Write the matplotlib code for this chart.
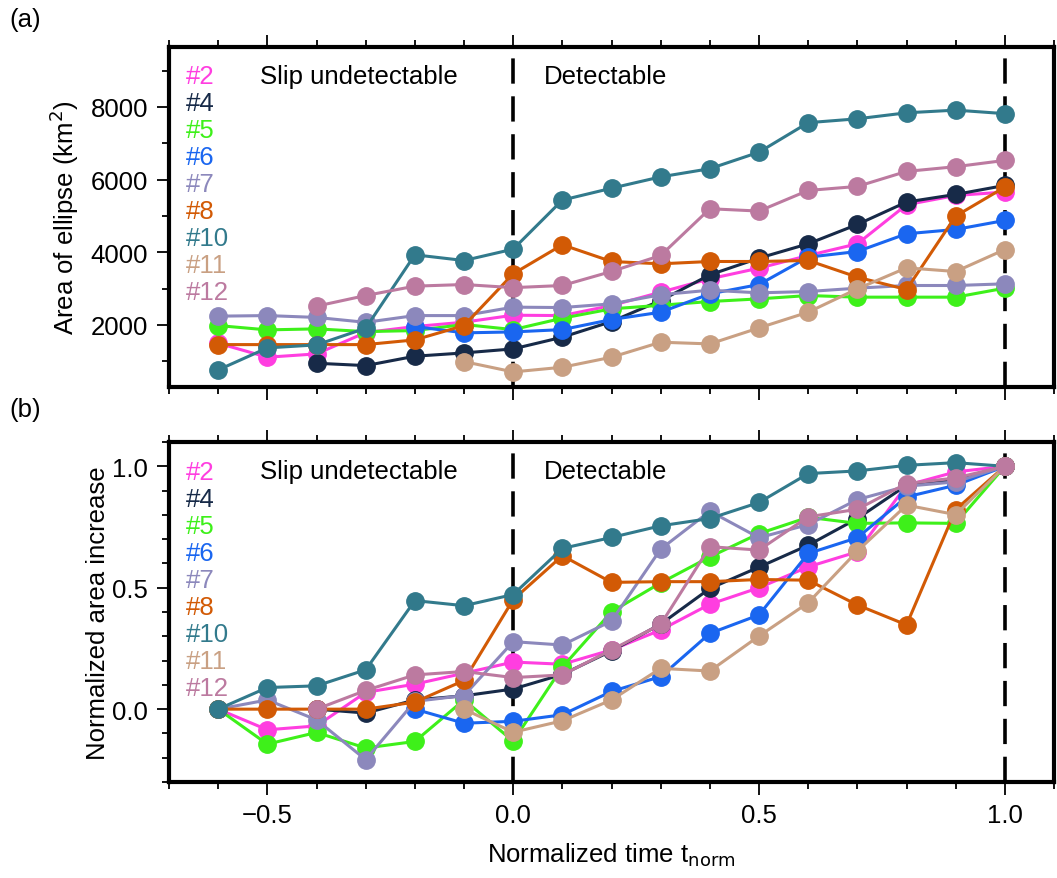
# Aire des ellipses et augmentation normalisée en fonction du temps normalisé.
# Deux panneaux (a) et (b), style GMT : cadre épais, graduations vers l'extérieur.

import numpy as np
import matplotlib.pyplot as plt
from matplotlib.ticker import MultipleLocator

nan = np.nan

t_norm = [-0.6, -0.5, -0.4, -0.3, -0.2, -0.1, 0.0, 0.1, 0.2, 0.3,
          0.4, 0.5, 0.6, 0.7, 0.8, 0.9, 1.0]

events = ["#2", "#4", "#5", "#6", "#7", "#8", "#10", "#11", "#12"]
colors = ["#ff3ee0", "#172a48", "#3ef01a", "#1a66f0", "#8c88bc",
          "#d25a05", "#327a8c", "#c9a083", "#bc7aa0"]

# --- (a) aire de l'ellipse (km^2) ---
area_2 = [1495, 1110, 1201, 1790, 1954, 2074, 2266, 2256, 2533, 2900,
          3268, 3562, 3910, 4232, 5307, 5563, 5657]
area_4 = [nan, nan, 944, 879, 1137, 1228, 1339, 1661, 2091, 2670,
          3378, 3838, 4232, 4764, 5382, 5591, 5839]
area_5 = [1981, 1862, 1890, 1815, 1843, 2010, 1870, 2184, 2441, 2540,
          2643, 2716, 2808, 2763, 2763, 2763, 3011]
area_6 = [nan, nan, nan, nan, 1954, 1780, 1806, 1870, 2147, 2349,
          2854, 3111, 3864, 4020, 4508, 4627, 4875]
area_7 = [2240, 2256, 2205, 2070, 2256, 2256, 2488, 2477, 2579, 2830,
          2955, 2882, 2918, 3011, 3084, 3084, 3130]
area_8 = [1457, 1457, 1457, 1457, 1587, 1981, 3406, 4205, 3745, 3681,
          3745, 3745, 3773, 3314, 2973, 4996, 5793]
area_10 = [760, 1366, 1449, 1909, 3929, 3772, 4085, 5436, 5762, 6075,
           6300, 6754, 7567, 7673, 7838, 7912, 7815]
area_11 = [nan, nan, nan, nan, nan, 989, 705, 834, 1110, 1523,
           1476, 1917, 2350, 2992, 3571, 3469, 4075]
area_12 = [nan, nan, 2515, 2808, 3066, 3111, 3025, 3084, 3470, 3910,
           5197, 5133, 5701, 5811, 6225, 6355, 6528]

# --- (b) augmentation d'aire normalisée ---
norm_2 = [0, -0.085, -0.069, 0.069, 0.103, 0.148, 0.194, 0.185, 0.244, 0.326,
          0.432, 0.500, 0.586, 0.648, 0.922, 0.977, 1.0]
norm_4 = [nan, nan, 0, -0.016, 0.038, 0.055, 0.083, 0.143, 0.240, 0.350,
          0.497, 0.585, 0.675, 0.785, 0.922, 0.943, 1.0]
norm_5 = [0, -0.144, -0.096, -0.160, -0.133, 0.038, -0.132, 0.173, 0.401, 0.520,
          0.627, 0.723, 0.790, 0.765, 0.767, 0.765, 1.0]
norm_6 = [nan, nan, nan, nan, 0, -0.058, -0.050, -0.023, 0.073, 0.134,
          0.312, 0.388, 0.641, 0.706, 0.874, 0.922, 1.0]
norm_7 = [0, 0.038, -0.044, -0.208, 0.032, 0.056, 0.278, 0.264, 0.363, 0.659,
          0.815, 0.706, 0.760, 0.863, 0.918, 0.936, 1.0]
norm_8 = [0, 0, 0, 0, 0.029, 0.118, 0.451, 0.632, 0.522, 0.525,
          0.525, 0.534, 0.531, 0.429, 0.347, 0.822, 1.0]
norm_10 = [0, 0.089, 0.096, 0.162, 0.447, 0.426, 0.472, 0.662, 0.707, 0.755,
           0.785, 0.851, 0.970, 0.981, 1.004, 1.015, 1.0]
norm_11 = [nan, nan, nan, nan, nan, 0, -0.095, -0.048, 0.038, 0.168,
           0.157, 0.301, 0.438, 0.651, 0.840, 0.801, 1.0]
norm_12 = [nan, nan, 0, 0.077, 0.141, 0.155, 0.130, 0.141, 0.244, 0.349,
           0.669, 0.655, 0.792, 0.823, 0.929, 0.952, 1.0]

areas = [area_2, area_4, area_5, area_6, area_7, area_8, area_10, area_11, area_12]
norms = [norm_2, norm_4, norm_5, norm_6, norm_7, norm_8, norm_10, norm_11, norm_12]

FS = 18.5


def style_axes(ax):
    """Cadre épais, graduations extérieures en bas, en haut et à gauche."""
    for s in ax.spines.values():
        s.set_linewidth(3.0)
    ax.tick_params(which="both", direction="out", top=True, right=False,
                   labelsize=FS, width=1.3, colors="black")
    ax.tick_params(which="major", length=9, pad=6)
    ax.tick_params(which="minor", length=5)
    ax.set_xlim(-0.7, 1.1)
    ax.xaxis.set_major_locator(MultipleLocator(0.5))
    ax.xaxis.set_minor_locator(MultipleLocator(0.1))


def draw_panel(ax, series):
    x = np.array(t_norm)
    for y, col in zip(series, colors):
        ax.plot(x, np.array(y, dtype=float), "-o", color=col, lw=2.2, ms=12.5,
                mec=col, solid_joinstyle="round")
    for xv in (0.0, 1.0):
        ax.axvline(xv, color="black", lw=2.6, dashes=(7, 3.5), zorder=1)
    tr = ax.get_xaxis_transform()
    ax.text(-0.515, 0.915, "Slip undetectable", transform=tr,
            fontsize=FS, va="center", ha="left")
    ax.text(0.063, 0.915, "Detectable", transform=tr,
            fontsize=FS, va="center", ha="left")
    # étiquettes des événements, colorées comme les courbes
    for i, (name, col) in enumerate(zip(events, colors)):
        ax.text(0.019, 1 - (29.5 + 27 * i) / 340, name, transform=ax.transAxes,
                color=col, fontsize=FS, va="center", ha="left")


def main():
    plt.rcParams["font.family"] = ["Liberation Sans", "DejaVu Sans"]
    plt.rcParams["axes.unicode_minus"] = True

    fig = plt.figure(figsize=(10.57, 8.79), dpi=100)
    ax1 = fig.add_axes([0.1599, 0.5586, 0.8373, 0.3868])
    ax2 = fig.add_axes([0.1599, 0.1092, 0.8373, 0.3868])

    # (a)
    style_axes(ax1)
    draw_panel(ax1, areas)
    ax1.set_ylim(290, 9650)
    ax1.yaxis.set_major_locator(MultipleLocator(2000))
    ax1.yaxis.set_minor_locator(MultipleLocator(1000))
    ax1.tick_params(axis="x", labelbottom=False)
    ax1.set_ylabel("Area of ellipse (km$^2$)", fontsize=FS, labelpad=7)

    # (b)
    style_axes(ax2)
    draw_panel(ax2, norms)
    ax2.set_ylim(-0.3, 1.1)
    ax2.yaxis.set_major_locator(MultipleLocator(0.5))
    ax2.yaxis.set_minor_locator(MultipleLocator(0.1))
    ax2.xaxis.set_major_formatter(plt.FuncFormatter(
        lambda v, p: f"{v:.1f}".replace("-", "\u2212")))
    ax2.yaxis.set_major_formatter(plt.FuncFormatter(lambda v, p: f"{v:.1f}"))
    ax2.set_ylabel("Normalized area increase", fontsize=FS, labelpad=2)
    ax2.set_xlabel("Normalized time t$_{\\mathrm{norm}}$", fontsize=FS, labelpad=10)

    fig.text(0.009, 0.977, "(a)", fontsize=FS, va="center", ha="left")
    fig.text(0.009, 0.533, "(b)", fontsize=FS, va="center", ha="left")

    fig.savefig("out.png", dpi=100)


if __name__ == "__main__":
    main()
